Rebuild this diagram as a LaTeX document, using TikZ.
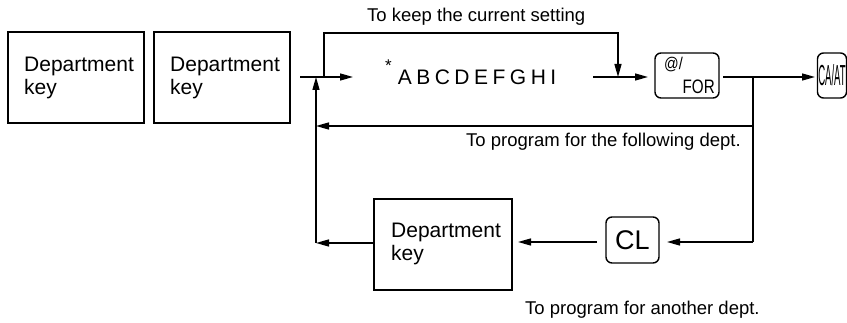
\documentclass[tikz,border=0pt]{standalone}
\usepackage{fontspec}
\setmainfont{Liberation Sans}
\usetikzlibrary{arrows.meta}
\begin{document}
\begin{tikzpicture}[x=1pt,y=-1pt,
  ln/.style={line width=1.4pt},
  arr/.style={line width=1.4pt,-{Triangle[length=13pt,width=7pt]}},
  deptbox/.style={draw,line width=1.4pt,minimum width=136pt,minimum height=91pt,inner sep=0pt},
  depttext/.style={font=\fontsize{21}{23}\selectfont,align=left,inner sep=0pt,anchor=north west},
  keybox/.style={draw,line width=1.4pt,rounded corners=6pt,inner sep=0pt},
  lbl/.style={font=\fontsize{18.5}{20}\selectfont,inner sep=0pt,anchor=base west}]
\useasboundingbox (0,0) rectangle (847,323);

% department key boxes
\node[deptbox] (d1) at (76,77.5) {};
\node[depttext] (d1t) at (24,57) {Department\\key};
\node[deptbox] (d2) at (222,77.5) {};
\node[depttext] (d2t) at (170,57) {Department\\key};
\node[deptbox,minimum width=138pt] (d3) at (443,244.5) {};
\node[depttext] (d3t) at (391,223) {Department\\key};

% input text
\node[inner sep=0pt,anchor=base west,font=\fontsize{21}{21}\selectfont] (abc) at (385,85)
  {\raisebox{13pt}{\fontsize{17}{17}\selectfont *}\kern6pt A\kern4.5pt B\kern4.5pt C\kern4.5pt D\kern4.5pt E\kern4.5pt F\kern4.5pt G\kern4.5pt H\kern4.5pt I};

% keys
\node[keybox,minimum width=64pt,minimum height=45pt] (for) at (687,75.5) {};
\node[inner sep=0pt,anchor=base west,font=\fontsize{17}{17}\selectfont] (fort1) at (664,70) {\scalebox{0.85}[1]{@/}};
\node[inner sep=0pt,anchor=base east,font=\fontsize{19.5}{19.5}\selectfont] (fort2) at (715,94) {\scalebox{0.78}[1]{FOR}};
\node[keybox,minimum width=29pt,minimum height=45pt] (caat) at (832,75.5)
  {\fontsize{29}{29}\selectfont\scalebox{0.33}[1]{CA/AT}};
\node[keybox,minimum width=53pt,minimum height=46pt,font=\fontsize{27}{27}\selectfont] (cl) at (632.5,240) {CL};

% labels
\node[lbl] (lkeep) at (367,22) {To keep the current setting};
\node[lbl] (lfollow) at (466,147) {To program for the following dept.};
\node[lbl] (lanother) at (525,315) {To program for another dept.};

% junction coordinates
\coordinate (js) at (300,77);
\coordinate (j) at (316,77);
\coordinate (jt) at (353,77);
\coordinate (ku) at (324,77);
\coordinate (kt) at (324,33);
\coordinate (kd) at (618,77);
\coordinate (as) at (593,77);
\coordinate (ae) at (648,77);
\coordinate (fs) at (723,77);
\coordinate (fe) at (815,77);
\coordinate (r1) at (753,77);
\coordinate (r2) at (753,126);
\coordinate (lret) at (316,126);
\coordinate (rb) at (753,242);
\coordinate (cle) at (667,242);
\coordinate (cls) at (597,242);
\coordinate (d3e) at (518,242);
\coordinate (jb) at (316,243);

% connectors
\draw[arr] (js) -- (jt);
\draw[arr] (ku) -- (kt) -| (kd);
\draw[arr] (as) -- (ae);
\draw[arr] (fs) -- (fe);
\draw[ln] (r1) -- (rb);
\draw[arr] (r2) -- (lret);
\draw[arr] (rb) -- (cle);
\draw[arr] (cls) -- (d3e);
\draw[arr] (d3.west |- jb) -- (jb);
\draw[arr] (jb) -- (j);
\end{tikzpicture}
\end{document}
